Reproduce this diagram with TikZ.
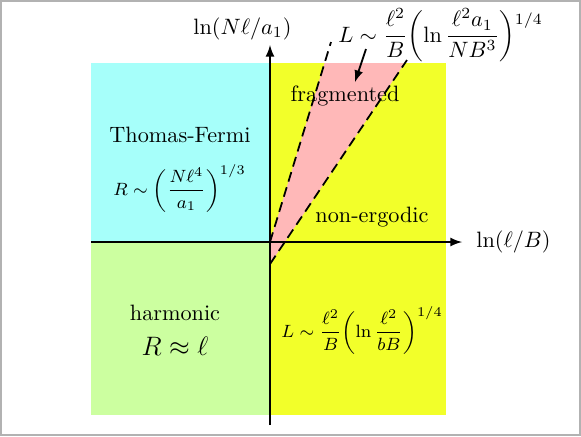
\documentclass[tikz,border=0pt]{standalone}
\usepackage{amssymb,amsmath}
\usepackage{tikz}
\usetikzlibrary{arrows}
\usetikzlibrary{positioning}
\definecolor{tfcyan}{RGB}{166,255,250}
\definecolor{harmgreen}{RGB}{204,255,160}
\definecolor{nonergyellow}{RGB}{242,255,42}
\definecolor{fragpink}{RGB}{255,184,184}

\begin{document}
\begin{tikzpicture}[x=0.45pt,y=-0.45pt]
	 \tikzstyle{axis}=[draw,thick,-latex,black]
	 \tikzstyle{border}=[draw,thick,black,dash pattern=on 4.5pt off 2.6pt]
	 \tikzstyle{phase}=[inner sep=0pt]
	 \tikzstyle{law}=[inner sep=0pt,font=\footnotesize]
	 \useasboundingbox (0,0) rectangle (581,436);
	 \draw[black!30,line width=1pt] (0.6,0.6) rectangle (580.2,435.2);

	 % regions
	 \fill[tfcyan] (91,63) rectangle (270,242);
	 \fill[harmgreen] (91,242) rectangle (270,415);
	 \fill[nonergyellow] (270,63) rectangle (446,415);
	 \fill[fragpink] (270,264) -- (404.7,63) -- (324.6,63) -- (270,242) -- cycle;

	 % axes
	 \coordinate (O) at (270,242);
	 \coordinate (xl) at (91,242);
	 \coordinate (xr) at (462,242);
	 \coordinate (yb) at (270,425);
	 \coordinate (yt) at (270,45);
	 \draw[axis] (xl) -- (xr);
	 \draw[axis] (yb) -- (yt);

	 % phase boundaries
	 \coordinate (lt) at (331,42);
	 \coordinate (rb) at (270,264);
	 \coordinate (rt) at (407,60);
	 \draw[border] (O) -- (lt);
	 \draw[border] (rb) -- (rt);

	 % labels
	 \node[phase,anchor=base east] (ylab) at (292,34.5) {$\ln(N\ell/a_1)$};
	 \node[phase,anchor=base west] (xlab) at (476,247) {$\ln(\ell/B)$};
	 \node[law,font=\fontsize{9.6pt}{11pt}\selectfont,anchor=base west] (fragL) at (338,42)
	   {$\displaystyle L\sim\frac{\ell^2}{B}\biggl(\ln\frac{\ell^2a_1}{NB^3}\biggr)^{\raisebox{-4pt}{$\scriptstyle 1/4$}}$};
	 \node[phase,anchor=base] (frag) at (345,101.7) {fragmented};
	 \node[phase,anchor=base] (tf) at (180,142) {Thomas-Fermi};
	 \node[law,anchor=base west] (tfR) at (113,195)
	   {$\displaystyle R\sim\biggl(\frac{N\ell^4}{a_1}\biggr)^{1/3}$};
	 \node[phase,anchor=base] (ne) at (372,222.7) {non-ergodic};
	 \node[phase,anchor=base] (harm) at (175,320.7) {harmonic};
	 \node[phase,anchor=base] (harmR) at (175,355) {\large $R\approx\ell$};
	 \node[law,anchor=base west] (neL) at (281,337)
	   {$\displaystyle L\sim\frac{\ell^2}{B}\biggl(\ln\frac{\ell^2}{bB}\biggr)^{1/4}$};

	 \coordinate (pa) at (366,49);
	 \coordinate (pb) at (355,82);
	 \draw[axis] (pa) -- (pb);
 \end{tikzpicture}
\end{document}
